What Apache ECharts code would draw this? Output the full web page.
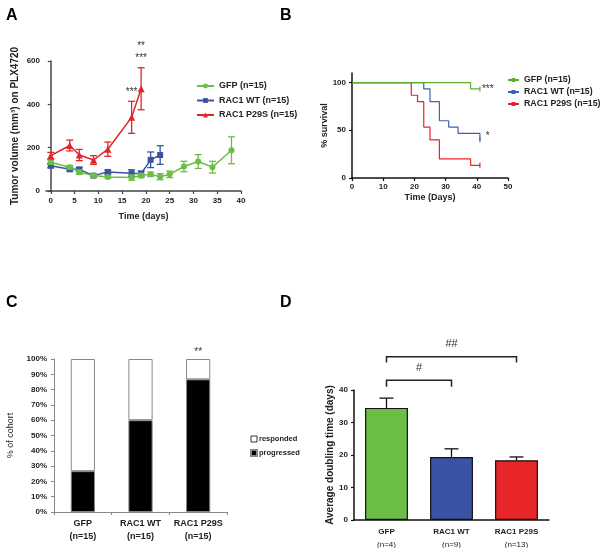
<!DOCTYPE html>
<html>
<head>
<meta charset="utf-8">
<script src="https://cdn.jsdelivr.net/npm/echarts@6/dist/echarts.min.js"></script>
<style>
html, body { margin: 0; padding: 0; background: #fff; }
#chart { width: 600px; height: 548px; }
</style>
</head>
<body>
<div id="chart"></div>
<script>
// ---- panel A : tumour volume on PLX4720 (mean +/- sem) ----
const daysGfp = [0, 4, 6, 9, 12, 17, 19, 21, 23, 25, 28, 31, 34, 38];
const volGfp = [133, 110, 87, 71, 65, 62, 71, 77, 66, 77, 113, 136, 110, 188];
const semGfp = [10, 8, 10, 6, 6, 12, 10, 10, 14, 15, 24, 32, 27, 62];
const daysWt = [0, 4, 6, 9, 12, 17, 19, 21, 23];
const volWt = [117, 100, 100, 71, 88, 82, 80, 144, 166];
const semWt = [10, 8, 8, 6, 8, 16, 12, 36, 43];
const daysP29s = [0, 4, 6, 9, 12, 17, 19];
const volP29s = [163, 210, 166, 143, 193, 340, 472];
const semP29s = [15, 25, 26, 20, 33, 74, 97];
const starsA = [[17, 457, '***'], [19, 612, '***'], [19, 666, '**']];
const ticksA = [0, 5, 10, 15, 20, 25, 30, 35, 40];

// ---- panel B : survival (Kaplan-Meier steps) ----
const survGfp = [[0, 100], [38, 93.3], [41, 93.3]];
const survWt = [[0, 100], [23, 93.3], [25, 80], [28, 60], [31, 53.3], [34, 46.7], [41, 40]];
const survP29s = [[0, 100], [19, 86.7], [21, 80], [23, 53.3], [25, 40], [28, 20], [38, 13.3], [41, 13.3]];
const starsB = [[43.5, 93, '***'], [43.5, 44, '*']];
const ticksB = [0, 50, 100];

// ---- panel C : response per cohort ----
const groupsC = ['GFP', 'RAC1 WT', 'RAC1 P29S'];
const nC = ['(n=15)', '(n=15)', '(n=15)'];
const progressed = [26.7, 60, 86.7];
const responded = [73.3, 40, 13.3];
const starsC = [[2, 104.5, '**']];

// ---- panel D : doubling time ----
const groupsD = ['GFP', 'RAC1 WT', 'RAC1 P29S'];
const nD = ['(n=4)', '(n=9)', '(n=13)'];
const doubling = [34.5, 19.4, 18.4];
const doublingSem = [3.0, 2.5, 1.0];
const colorsD = ['#6cbd45', '#3a53a4', '#e8262a'];
const bracketsD = [[0, 1, 41, 43, '#'], [0, 2, 48.5, 50.2, '##']];

const FONT = '"Liberation Sans", Arial, sans-serif';
const GREEN = '#6cbd45', BLUE = '#3a53a4', RED = '#e3242b';

function errorBars(color, cap, upOnly) {
    return function (params, api) {
        let x = api.value(0), y = api.value(1), e = api.value(2);
        let hi = api.coord([x, y + e]);
        let lo = api.coord([x, upOnly ? y : y - e]);
        let style = { stroke: color, lineWidth: 1.3, fill: null };
        let kids = [
            { type: 'line', shape: { x1: hi[0], y1: hi[1], x2: lo[0], y2: lo[1] }, style: style },
            { type: 'line', shape: { x1: hi[0] - cap, y1: hi[1], x2: hi[0] + cap, y2: hi[1] }, style: style }
        ];
        if (!upOnly) {
            kids.push({ type: 'line', shape: { x1: lo[0] - cap, y1: lo[1], x2: lo[0] + cap, y2: lo[1] }, style: style });
        }
        return { type: 'group', children: kids };
    };
}

function textMarks(list, size, weight) {
    return function (params, api) {
        let p = api.coord([api.value(0), api.value(1)]);
        return {
            type: 'text', x: p[0], y: p[1],
            style: {
                text: list[params.dataIndex][2], fill: '#333', font: weight + ' ' + size + 'px ' + FONT,
                textAlign: 'center', textVerticalAlign: 'middle'
            }
        };
    };
}

function censorData(points) {
    // only the last point carries the censor tick
    return points.map(function (p, i) {
        return i === points.length - 1 ? { value: p } : { value: p, symbol: 'none' };
    });
}

let axisTxt = { color: '#222', fontSize: 8, fontWeight: 'bold', fontFamily: FONT };
let nameTxt = { color: '#222', fontSize: 9, fontWeight: 'bold', fontFamily: FONT };
let longNameTxt = { color: '#222', fontSize: 10, fontWeight: 'bold', fontFamily: FONT };

let option = {
    animation: false,
    backgroundColor: '#fff',
    title: [
        { text: 'A', left: 6, top: 7.5 },
        { text: 'B', left: 280, top: 7.5 },
        { text: 'C', left: 6, top: 295 },
        { text: 'D', left: 280, top: 295 }
    ].map(function (t) {
        t.padding = 0;
        t.textStyle = { fontSize: 16, fontWeight: 'bold', color: '#000', fontFamily: FONT };
        return t;
    }),
    legend: [
        {
            left: 196, top: 81.5, padding: 0, orient: 'vertical', itemWidth: 17, itemHeight: 6, itemGap: 5.5,
            textStyle: { fontSize: 9, fontWeight: 'bold', color: '#222', fontFamily: FONT },
            data: ['GFP (n=15)', 'RAC1 WT (n=15)', 'RAC1 P29S (n=15)']
        },
        {
            left: 507, top: 75.5, padding: 0, orient: 'vertical', itemWidth: 11, itemHeight: 5, itemGap: 3,
            textStyle: { fontSize: 8.8, fontWeight: 'bold', color: '#222', fontFamily: FONT },
            data: ['GFP (n=15) ', 'RAC1 WT (n=15) ', 'RAC1 P29S (n=15) ']
        },
        {
            left: 250, top: 435, padding: 0, orient: 'vertical', itemWidth: 6, itemHeight: 6, itemGap: 6,
            icon: 'rect',
            textStyle: { fontSize: 7.5, fontWeight: 'bold', color: '#222', fontFamily: FONT, padding: [0, 0, 0, -3] },
            data: [
                { name: 'responded', itemStyle: { color: '#fff', borderColor: '#000', borderWidth: 0.8 } },
                { name: 'progressed', itemStyle: { color: '#000' } }
            ]
        }
    ],
    grid: [
        { left: 46, top: 61, width: 195, height: 130, outerBoundsMode: 'none' },
        { left: 352, top: 73, width: 156, height: 105, outerBoundsMode: 'none' },
        { left: 54, top: 359, width: 173, height: 153, outerBoundsMode: 'none' },
        { left: 354, top: 390, width: 195, height: 130, outerBoundsMode: 'none' }
    ],
    xAxis: [
        {
            gridIndex: 0, type: 'value', min: -1, max: 40,
            axisLine: { show: true, lineStyle: { color: '#444', width: 1.5 } },
            axisTick: { show: true, length: 3, customValues: ticksA, lineStyle: { color: '#444', width: 1.2 } },
            axisLabel: Object.assign({ margin: 6, customValues: ticksA }, axisTxt),
            splitLine: { show: false },
            name: 'Time (days)', nameLocation: 'middle', nameGap: 21, nameTextStyle: nameTxt
        },
        {
            gridIndex: 1, type: 'value', min: 0, max: 50, interval: 10,
            axisLine: { show: true, lineStyle: { color: '#111', width: 1.5 } },
            axisTick: { show: true, length: 3, lineStyle: { color: '#111', width: 1.2 } },
            axisLabel: Object.assign({ margin: 5 }, axisTxt),
            splitLine: { show: false },
            name: 'Time (Days)', nameLocation: 'middle', nameGap: 15, nameTextStyle: nameTxt
        },
        {
            gridIndex: 2, type: 'category', data: groupsC,
            axisLine: { show: true, lineStyle: { color: '#888', width: 1 } },
            axisTick: { show: true, length: 3, interval: 0, lineStyle: { color: '#888' } },
            axisLabel: {
                margin: 5, interval: 0, lineHeight: 13, color: '#222', fontSize: 9, fontWeight: 'bold', fontFamily: FONT,
                formatter: function (v, i) { return v + '\n' + nC[i]; }
            },
            splitLine: { show: false }
        },
        {
            gridIndex: 3, type: 'category', data: groupsD,
            axisLine: { show: true, lineStyle: { color: '#111', width: 1.5 } },
            axisTick: { show: false },
            axisLabel: {
                margin: 5, interval: 0,
                formatter: function (v, i) { return '{b|' + v + '}\n{n|' + nD[i] + '}'; },
                rich: {
                    b: { color: '#222', fontSize: 8, fontWeight: 'bold', fontFamily: FONT, lineHeight: 13 },
                    n: { color: '#222', fontSize: 8, fontFamily: FONT, lineHeight: 13 }
                }
            },
            splitLine: { show: false }
        }
    ],
    yAxis: [
        {
            gridIndex: 0, type: 'value', min: 0, max: 600, interval: 200,
            axisLine: { show: true, lineStyle: { color: '#444', width: 1.5 } },
            axisTick: { show: true, length: 3, lineStyle: { color: '#444', width: 1.2 } },
            axisLabel: Object.assign({ margin: 6 }, axisTxt),
            splitLine: { show: false },
            name: 'Tumor volume (mm³) on PLX4720', nameLocation: 'middle', nameGap: 26, nameTextStyle: longNameTxt
        },
        {
            gridIndex: 1, type: 'value', min: 0, max: 110,
            axisLine: { show: true, lineStyle: { color: '#111', width: 1.5 } },
            axisTick: { show: true, length: 3, customValues: ticksB, lineStyle: { color: '#111', width: 1.2 } },
            axisLabel: Object.assign({ margin: 6, customValues: ticksB }, axisTxt),
            splitLine: { show: false },
            name: '% survival', nameLocation: 'middle', nameGap: 19, nameTextStyle: nameTxt
        },
        {
            gridIndex: 2, type: 'value', min: 0, max: 100, interval: 10,
            axisLine: { show: true, lineStyle: { color: '#888', width: 1 } },
            axisTick: { show: true, length: 3, lineStyle: { color: '#888' } },
            axisLabel: Object.assign({ margin: 7, formatter: '{value}%' }, axisTxt),
            splitLine: { show: false },
            name: '% of cohort', nameLocation: 'middle', nameGap: 39,
            nameTextStyle: { color: '#222', fontSize: 9, fontFamily: FONT }
        },
        {
            gridIndex: 3, type: 'value', min: 0, max: 40, interval: 10,
            axisLine: { show: true, lineStyle: { color: '#111', width: 1.5 } },
            axisTick: { show: true, length: 3, lineStyle: { color: '#111', width: 1.2 } },
            axisLabel: Object.assign({ margin: 6 }, axisTxt),
            splitLine: { show: false },
            name: 'Average doubling time (days)', nameLocation: 'middle', nameGap: 19, nameTextStyle: longNameTxt
        }
    ],
    series: [
        // panel A
        {
            name: 'GFP (n=15)', type: 'line', xAxisIndex: 0, yAxisIndex: 0,
            data: daysGfp.map(function (d, i) { return [d, volGfp[i]]; }),
            symbol: 'circle', symbolSize: 6, color: GREEN, lineStyle: { width: 1.5 }, z: 3
        },
        {
            name: 'RAC1 WT (n=15)', type: 'line', xAxisIndex: 0, yAxisIndex: 0,
            data: daysWt.map(function (d, i) { return [d, volWt[i]]; }),
            symbol: 'rect', symbolSize: 6, color: BLUE, lineStyle: { width: 1.5 }, z: 2
        },
        {
            name: 'RAC1 P29S (n=15)', type: 'line', xAxisIndex: 0, yAxisIndex: 0,
            data: daysP29s.map(function (d, i) { return [d, volP29s[i]]; }),
            symbol: 'triangle', symbolSize: 7, color: RED, lineStyle: { width: 1.5 }, z: 4
        },
        {
            type: 'custom', xAxisIndex: 0, yAxisIndex: 0, z: 2,
            renderItem: errorBars(BLUE, 3.5, false), encode: { x: 0, y: 1 },
            data: daysWt.map(function (d, i) { return [d, volWt[i], semWt[i]]; })
        },
        {
            type: 'custom', xAxisIndex: 0, yAxisIndex: 0, z: 3,
            renderItem: errorBars(GREEN, 3.5, false), encode: { x: 0, y: 1 },
            data: daysGfp.map(function (d, i) { return [d, volGfp[i], semGfp[i]]; })
        },
        {
            type: 'custom', xAxisIndex: 0, yAxisIndex: 0, z: 4,
            renderItem: errorBars(RED, 3.5, false), encode: { x: 0, y: 1 },
            data: daysP29s.map(function (d, i) { return [d, volP29s[i], semP29s[i]]; })
        },
        {
            type: 'custom', xAxisIndex: 0, yAxisIndex: 0, z: 5,
            renderItem: textMarks(starsA, 10, 'normal'), encode: { x: 0, y: 1 },
            data: starsA.map(function (s) { return [s[0], s[1]]; })
        },
        // panel B
        {
            name: 'GFP (n=15) ', type: 'line', step: 'end', xAxisIndex: 1, yAxisIndex: 1,
            data: censorData(survGfp), symbol: 'rect', symbolSize: [1.2, 5],
            color: '#5cb031', lineStyle: { width: 1.2 }, z: 4
        },
        {
            name: 'RAC1 WT (n=15) ', type: 'line', step: 'end', xAxisIndex: 1, yAxisIndex: 1,
            data: censorData(survWt), symbol: 'rect', symbolSize: [1.2, 5],
            color: '#3f62a8', lineStyle: { width: 1.2 }, z: 3
        },
        {
            name: 'RAC1 P29S (n=15) ', type: 'line', step: 'end', xAxisIndex: 1, yAxisIndex: 1,
            data: censorData(survP29s), symbol: 'rect', symbolSize: [1.2, 5],
            color: '#e8202a', lineStyle: { width: 1.2 }, z: 2
        },
        {
            type: 'custom', xAxisIndex: 1, yAxisIndex: 1, z: 5,
            renderItem: textMarks(starsB, 10, 'normal'), encode: { x: 0, y: 1 },
            data: starsB.map(function (s) { return [s[0], s[1]]; })
        },
        // panel C
        {
            name: 'progressed', type: 'bar', stack: 'c', xAxisIndex: 2, yAxisIndex: 2,
            data: progressed, barWidth: '42%',
            itemStyle: { color: '#000', borderColor: '#888', borderWidth: 1 }
        },
        {
            name: 'responded', type: 'bar', stack: 'c', xAxisIndex: 2, yAxisIndex: 2,
            data: responded, barWidth: '42%',
            itemStyle: { color: '#fff', borderColor: '#888', borderWidth: 1 }
        },
        {
            type: 'custom', xAxisIndex: 2, yAxisIndex: 2, z: 5,
            renderItem: textMarks(starsC, 10, 'normal'), encode: { x: 0, y: 1 },
            data: starsC.map(function (s) { return [s[0], s[1]]; })
        },
        // panel D
        {
            type: 'bar', xAxisIndex: 3, yAxisIndex: 3, barWidth: '66%', z: 3,
            data: doubling.map(function (v, i) {
                return { value: v, itemStyle: { color: colorsD[i], borderColor: '#111', borderWidth: 1.2 } };
            })
        },
        {
            type: 'custom', xAxisIndex: 3, yAxisIndex: 3, z: 2,
            renderItem: errorBars('#111', 7, true), encode: { x: 0, y: 1 },
            data: doubling.map(function (v, i) { return [i, v, doublingSem[i]]; })
        },
        {
            type: 'custom', xAxisIndex: 3, yAxisIndex: 3, z: 5,
            renderItem: function (params, api) {
                let b = bracketsD[params.dataIndex];
                let l0 = api.coord([b[0], b[2]]), l1 = api.coord([b[0], b[3]]);
                let r1 = api.coord([b[1], b[3]]), r0 = api.coord([b[1], b[2]]);
                return {
                    type: 'group', children: [
                        { type: 'polyline', shape: { points: [l0, l1, r1, r0] }, style: { stroke: '#222', lineWidth: 1.5, fill: null } },
                        {
                            type: 'text', x: (l1[0] + r1[0]) / 2, y: l1[1] - 7,
                            style: { text: b[4], fill: '#333', font: 'normal 11px ' + FONT, textAlign: 'center', textVerticalAlign: 'bottom' }
                        }
                    ]
                };
            },
            encode: { x: 0, y: 1 },
            data: bracketsD.map(function (b) { return [b[0], b[3]]; })
        }
    ]
};

let chart = echarts.init(document.getElementById('chart'));
chart.setOption(option);
</script>
</body>
</html>
